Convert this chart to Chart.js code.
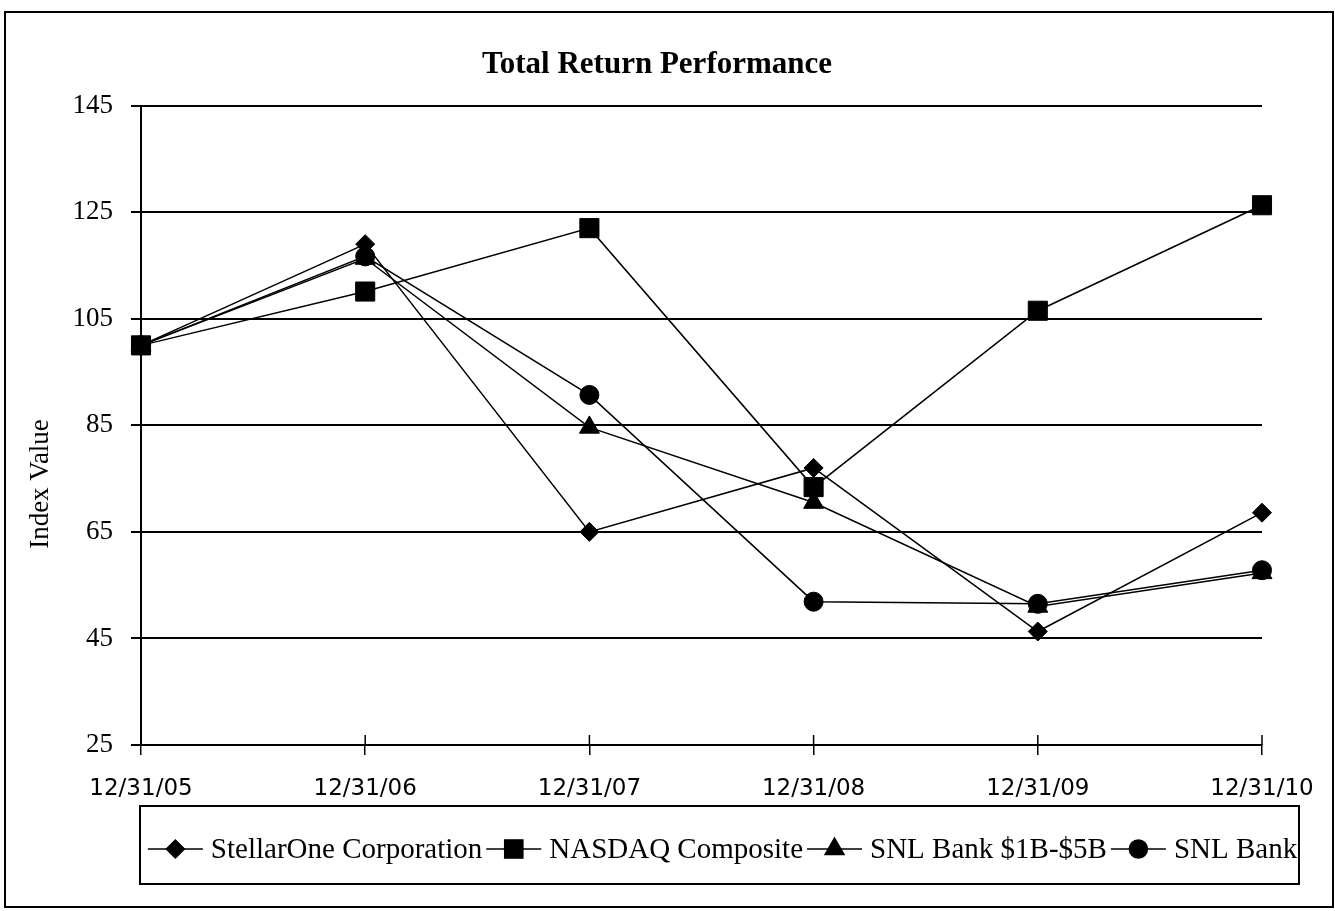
<!DOCTYPE html>
<html>
<head>
<meta charset="utf-8">
<title>Total Return Performance</title>
<script src="https://cdn.jsdelivr.net/npm/chart.js@4.4.1/dist/chart.umd.min.js"></script>
<style>
  html, body { margin: 0; padding: 0; background: #fff; }
  canvas { display: block; }
</style>
</head>
<body>
<canvas id="chart" width="1335" height="911"></canvas>
<script>
// Year-end dates on the horizontal axis
const categories = ['12/31/05', '12/31/06', '12/31/07', '12/31/08', '12/31/09', '12/31/10'];

// Index values (12/31/05 = 100)
const stellarOne      = [100, 119.0, 65.0, 77.0, 46.3, 68.6];
const nasdaqComposite = [100, 110.1, 122.0, 73.4, 106.5, 126.3];
const snlBank1Bto5B   = [100, 116.3, 84.6, 70.5, 51.0, 57.3];
const snlBank         = [100, 116.7, 90.7, 51.9, 51.5, 57.8];

// Vertical axis tick values
const yTicks = [25, 45, 65, 85, 105, 125, 145];

const SERIF = "'Liberation Serif', 'Times New Roman', serif";
const SANS = "'DejaVu Sans', Verdana, sans-serif";

function series(label, data, pointStyle, radius) {
  return {
    label, data, pointStyle,
    pointRadius: radius,
    pointHoverRadius: radius,
    borderColor: '#000',
    backgroundColor: '#000',
    pointBackgroundColor: '#000',
    pointBorderColor: '#000',
    pointBorderWidth: 1,
    borderWidth: 1.5,
    tension: 0,
    fill: false
  };
}

// Outer frame around the whole figure
const framePlugin = {
  id: 'frame',
  beforeDraw(chart) {
    const ctx = chart.ctx;
    ctx.save();
    ctx.fillStyle = '#fff';
    ctx.fillRect(0, 0, chart.width, chart.height);
    ctx.strokeStyle = '#000';
    ctx.lineWidth = 2;
    ctx.strokeRect(5, 12, chart.width - 7, chart.height - 16);
    ctx.restore();
  }
};

// Rotated axis caption and upward tick marks on the category axis
const axisExtras = {
  id: 'axisExtras',
  afterDraw(chart) {
    const ctx = chart.ctx;
    const xs = chart.scales.x;
    const area = chart.chartArea;
    ctx.save();
    ctx.strokeStyle = '#000';
    ctx.lineWidth = 1.5;
    ctx.beginPath();
    xs.ticks.forEach((t, i) => {
      const px = xs.getPixelForTick(i);
      ctx.moveTo(px, area.bottom - 10);
      ctx.lineTo(px, area.bottom);
    });
    ctx.stroke();

    ctx.translate(41, 484);
    ctx.rotate(-Math.PI / 2);
    ctx.fillStyle = '#000';
    ctx.font = '27px ' + SERIF;
    ctx.textAlign = 'center';
    ctx.textBaseline = 'middle';
    ctx.fillText('Index Value', 0, 0);
    ctx.restore();
  }
};

// Boxed legend with line-and-marker samples
const boxedLegend = {
  id: 'boxedLegend',
  afterDraw(chart) {
    const ctx = chart.ctx;
    const box = { left: 140, top: 806, right: 1299, bottom: 884 };
    const lineLen = 55, gapAfterLine = 8, gapAfterText = 4;
    const cy = 849;
    ctx.save();
    ctx.strokeStyle = '#000';
    ctx.fillStyle = '#000';
    ctx.lineWidth = 2;
    ctx.strokeRect(box.left, box.top, box.right - box.left, box.bottom - box.top);
    ctx.font = '29px ' + SERIF;
    ctx.textBaseline = 'middle';
    ctx.textAlign = 'left';
    const items = chart.data.datasets.map(ds => ({ ds, w: ctx.measureText(ds.label).width }));
    const total = items.reduce((s, it) => s + lineLen + gapAfterLine + it.w, 0) + gapAfterText * (items.length - 1);
    let x = (box.left + box.right) / 2 - total / 2 + 3;
    items.forEach((it) => {
      ctx.lineWidth = 1.5;
      ctx.beginPath();
      ctx.moveTo(x, cy);
      ctx.lineTo(x + lineLen, cy);
      ctx.stroke();
      Chart.helpers.drawPoint(ctx, {
        pointStyle: it.ds.pointStyle,
        radius: it.ds.pointRadius * 0.95,
        rotation: 0,
        borderWidth: 1
      }, x + lineLen / 2, cy);
      ctx.fill();
      x += lineLen + gapAfterLine;
      ctx.fillText(it.ds.label, x, cy + 1);
      x += it.w + gapAfterText;
    });
    ctx.restore();
  }
};

new Chart(document.getElementById('chart'), {
  type: 'line',
  data: {
    labels: categories,
    datasets: [
      series('StellarOne Corporation', stellarOne, 'rectRot', 9.5),
      series('NASDAQ Composite', nasdaqComposite, 'rect', 13.5),
      series('SNL Bank $1B-$5B', snlBank1Bto5B, 'triangle', 11.5),
      series('SNL Bank', snlBank, 'circle', 9.5)
    ]
  },
  options: {
    responsive: false,
    animation: false,
    devicePixelRatio: 1,
    layout: { padding: { left: 52, right: 73, top: 0, bottom: 106 } },
    plugins: {
      legend: { display: false },
      tooltip: { enabled: false },
      title: {
        display: true,
        text: 'Total Return Performance',
        color: '#000',
        font: { family: SERIF, size: 31, weight: 'bold', lineHeight: 1.2 },
        padding: { top: 46, bottom: 22.4 }
      }
    },
    scales: {
      x: {
        type: 'category',
        offset: false,
        grid: { display: true, drawOnChartArea: false, drawTicks: true, tickLength: 10, color: '#000', lineWidth: 1.5 },
        border: { display: true, color: '#000', width: 2 },
        ticks: { color: '#000', font: { family: SANS, size: 23 }, padding: 20, maxRotation: 0, autoSkip: false },
        afterFit(scale) { scale.height = 60; }
      },
      y: {
        min: yTicks[0],
        max: yTicks[yTicks.length - 1],
        afterBuildTicks(scale) { scale.ticks = yTicks.map(v => ({ value: v })); },
        grid: { color: '#000', lineWidth: 2, tickLength: 10, drawTicks: true },
        border: { display: true, color: '#000', width: 2 },
        ticks: { color: '#000', font: { family: SERIF, size: 27 }, padding: 18 },
        afterFit(scale) { scale.width = 89; }
      }
    }
  },
  plugins: [framePlugin, axisExtras, boxedLegend]
});
</script>
</body>
</html>
